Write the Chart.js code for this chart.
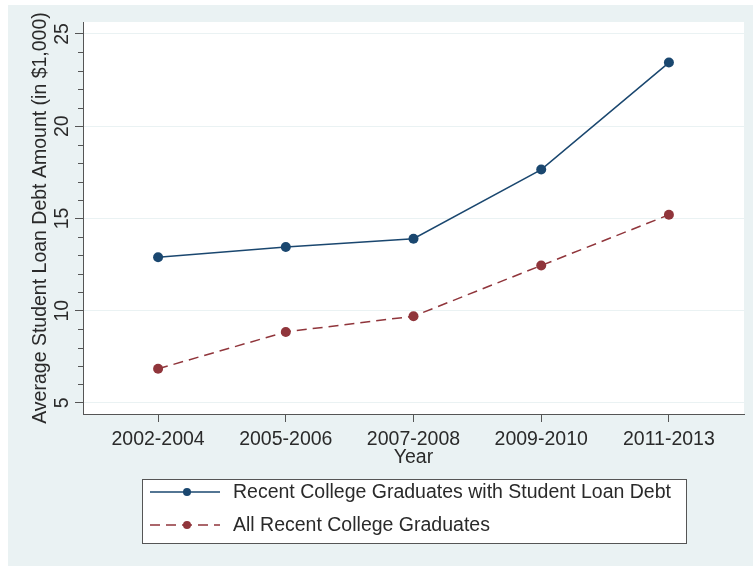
<!DOCTYPE html>
<html>
<head>
<meta charset="utf-8">
<title>Average Student Loan Debt</title>
<script src="https://cdn.jsdelivr.net/npm/chart.js@4.4.1/dist/chart.umd.min.js"></script>
<style>
  html, body { margin: 0; padding: 0; background: #fff; }
  #wrap { width: 753px; height: 567px; }
</style>
</head>
<body>
<div id="wrap"><canvas id="debtChart" width="753" height="567"></canvas></div>
<script>
// data
const years = ['2002-2004', '2005-2006', '2007-2008', '2009-2010', '2011-2013'];
const withDebt = [12.9, 13.45, 13.9, 17.65, 23.45];
const allGrads = [6.85, 8.85, 9.7, 12.45, 15.2];
const yTicks = [5, 6, 7, 8, 9, 10, 11, 12, 13, 14, 15, 16, 17, 18, 19, 20, 21, 22, 23, 24, 25];
const seriesNames = ['Recent College Graduates with Student Loan Debt', 'All Recent College Graduates'];

const FONT = 'Liberation Sans, Arial, Helvetica, sans-serif';
const TEXT = '#2a2a2a';
const AXIS = '#555';
const BLUE = '#1a476f';
const RED = '#90353b';
const GRAPH_BG = '#eaf2f3';

const isMajor = v => v % 5 === 0;

// stata-ish frame: graph region, white plot region, minor ticks, boxed legend
const stataFrame = {
    id: 'stataFrame',
    beforeDraw(chart) {
        const { ctx, chartArea: a } = chart;
        ctx.save();
        ctx.fillStyle = '#fff';
        ctx.fillRect(0, 0, chart.width, chart.height);
        ctx.fillStyle = GRAPH_BG;
        ctx.fillRect(8, 5, 745, 561);
        ctx.fillStyle = '#fff';
        ctx.fillRect(a.left, a.top, a.right - a.left, a.bottom - a.top);
        ctx.restore();
    },
    afterDraw(chart) {
        const { ctx, chartArea: a } = chart;
        const y = chart.scales.y;
        ctx.save();

        // minor ticks on the y axis
        ctx.strokeStyle = AXIS;
        ctx.lineWidth = 1;
        yTicks.filter(v => !isMajor(v)).forEach(v => {
            const py = Math.round(y.getPixelForValue(v)) + 0.5;
            ctx.beginPath();
            ctx.moveTo(a.left - 5, py);
            ctx.lineTo(a.left, py);
            ctx.stroke();
        });

        // legend box
        const box = { x: 142, y: 479, w: 544, h: 64 };
        ctx.fillStyle = '#fff';
        ctx.fillRect(box.x, box.y, box.w, box.h);
        ctx.strokeStyle = AXIS;
        ctx.strokeRect(box.x + 0.5, box.y + 0.5, box.w, box.h);

        chart.data.datasets.forEach((ds, i) => {
            const ly = box.y + 13 + i * 33;
            ctx.strokeStyle = ds.borderColor;
            ctx.lineWidth = 1.5;
            ctx.setLineDash(ds.borderDash || []);
            ctx.beginPath();
            ctx.moveTo(box.x + 8, ly);
            ctx.lineTo(box.x + 78, ly);
            ctx.stroke();
            ctx.setLineDash([]);
            ctx.fillStyle = ds.pointBackgroundColor;
            ctx.beginPath();
            ctx.arc(box.x + 45, ly, 4, 0, Math.PI * 2);
            ctx.fill();

            ctx.fillStyle = TEXT;
            ctx.font = '19.5px ' + FONT;
            ctx.textBaseline = 'middle';
            ctx.textAlign = 'left';
            ctx.fillText(ds.label, box.x + 91, ly + 1);
        });
        ctx.restore();
    }
};

new Chart(document.getElementById('debtChart'), {
    type: 'line',
    data: {
        datasets: [{
            label: seriesNames[0],
            data: withDebt.map((v, i) => ({ x: i, y: v })),
            borderColor: BLUE,
            backgroundColor: BLUE,
            borderWidth: 1.5,
            pointRadius: 5,
            pointBorderWidth: 0,
            pointBackgroundColor: BLUE,
            tension: 0
        }, {
            label: seriesNames[1],
            data: allGrads.map((v, i) => ({ x: i, y: v })),
            borderColor: RED,
            backgroundColor: RED,
            borderWidth: 1.5,
            borderDash: [10, 6],
            pointRadius: 5,
            pointBorderWidth: 0,
            pointBackgroundColor: RED,
            tension: 0
        }]
    },
    options: {
        responsive: false,
        devicePixelRatio: 1,
        animation: false,
        layout: { padding: { top: 22, right: 9, left: 0, bottom: 0 } },
        plugins: {
            legend: { display: false },
            tooltip: { enabled: false }
        },
        scales: {
            x: {
                type: 'linear',
                min: -0.588,
                max: 4.588,
                afterBuildTicks: s => { s.ticks = years.map((_, i) => ({ value: i })); },
                afterFit: s => { s.height = 153; },
                border: { color: AXIS, width: 1 },
                grid: { drawOnChartArea: false, tickLength: 8, tickColor: AXIS },
                ticks: {
                    autoSkip: false,
                    maxRotation: 0,
                    padding: 6,
                    color: TEXT,
                    font: { family: FONT, size: 19.5 },
                    callback: v => years[v]
                },
                title: {
                    display: true,
                    text: 'Year',
                    color: TEXT,
                    font: { family: FONT, size: 19.5 },
                    padding: { top: 0, bottom: 98 }
                }
            },
            y: {
                min: 4.4,
                max: 25.65,
                afterBuildTicks: s => { s.ticks = yTicks.map(v => ({ value: v })); },
                afterFit: s => { s.width = 83; },
                border: { color: AXIS, width: 1 },
                grid: {
                    color: c => isMajor(c.tick.value) ? GRAPH_BG : 'rgba(0,0,0,0)',
                    tickColor: c => isMajor(c.tick.value) ? AXIS : 'rgba(0,0,0,0)',
                    tickLength: 8,
                    lineWidth: 1
                },
                ticks: {
                    autoSkip: false,
                    minRotation: 90,
                    maxRotation: 90,
                    crossAlign: 'center',
                    padding: 2,
                    color: TEXT,
                    font: { family: FONT, size: 19.5 },
                    callback: v => isMajor(v) ? String(v) : ''
                },
                title: {
                    display: true,
                    text: 'Average Student Loan Debt Amount (in $1,000)',
                    color: TEXT,
                    font: { family: FONT, size: 19.5 },
                    padding: { top: 29, bottom: 0 }
                }
            }
        }
    },
    plugins: [stataFrame]
});
</script>
</body>
</html>
